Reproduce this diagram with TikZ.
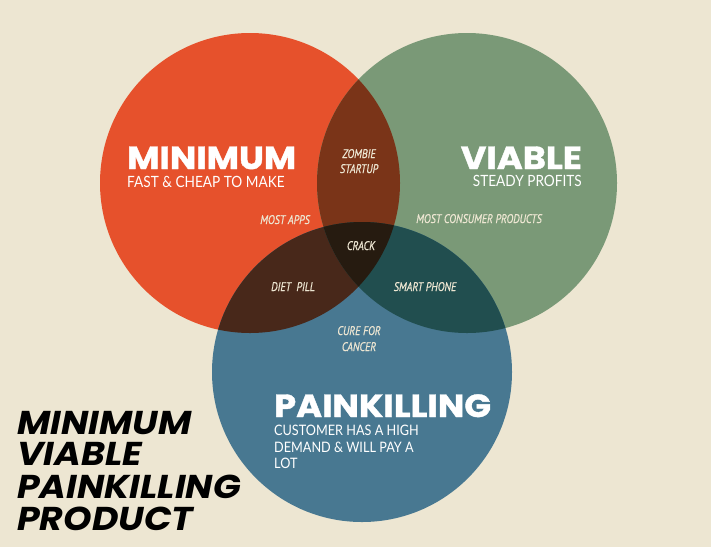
\documentclass[tikz,border=0pt]{standalone}
\usepackage{fontspec}
\setmainfont{Lato}
\newfontfamily\heavy{Poppins}[FakeStretch=1.1,BoldFeatures={FakeBold=1.2}]
\newfontfamily\cond{PT Sans}[FakeStretch=0.82,ItalicFeatures={FakeBold=0.6}]
\newfontfamily\sub{Lato}[FakeStretch=0.88]
\definecolor{bg}{HTML}{EDE6D2}
\definecolor{cred}{HTML}{E6512C}
\definecolor{cgreen}{HTML}{7A9977}
\definecolor{cblue}{HTML}{487891}
\definecolor{crg}{HTML}{7A3418}
\definecolor{crb}{HTML}{48281A}
\definecolor{cgb}{HTML}{214E4F}
\definecolor{call}{HTML}{261B10}
\begin{document}
\begin{tikzpicture}[x=1pt,y=-1pt,
  title/.style={inner sep=0pt,text=white,text depth=0pt,font=\heavy\bfseries\fontsize{32}{32}\selectfont},
  subt/.style={inner sep=0pt,text=white,text height=11pt,text depth=0pt,font=\sub\fontsize{15.5}{15.5}\selectfont},
  subp/.style={inner sep=0pt,text=white,text height=10pt,text depth=0pt,anchor=base west,font=\sub\fontsize{14.4}{14.4}\selectfont},
  lbl/.style={inner sep=0pt,text=bg,anchor=base,font=\cond\itshape\fontsize{12.5}{12.5}\selectfont},
  big/.style={inner sep=0pt,anchor=base west,text=black,text depth=0pt,font=\heavy\bfseries\itshape\fontsize{33}{33}\selectfont}]
\fill[bg] (0,0) rectangle (711,547);
\useasboundingbox (0,0) rectangle (711,547);
\def\rc{(250,183) circle[radius=150]}
\def\gc{(467,183) circle[radius=150]}
\def\bc{(362,372) circle[radius=150]}
\fill[cred] \rc;
\fill[cgreen] \gc;
\fill[cblue] \bc;
\begin{scope}\clip \rc; \fill[crg] \gc; \end{scope}
\begin{scope}\clip \rc; \fill[crb] \bc; \end{scope}
\begin{scope}\clip \gc; \fill[cgb] \bc; \end{scope}
\begin{scope}\clip \rc; \clip \gc; \fill[call] \bc; \end{scope}
% titles
\node[title,anchor=base west] (tmin) at (127,169) {MINIMUM};
\node[subt,anchor=base west] (smin) at (127,187) {FAST \& CHEAP TO MAKE};
\node[title,anchor=base east] (tvia) at (582,169) {VIABLE};
\node[subt,anchor=base east] (svia) at (582,186) {STEADY PROFITS};
\node[title,anchor=base west] (tpain) at (274,417) {PAINKILLING};
\node[subp] (sp1) at (274,435) {CUSTOMER HAS A HIGH};
\node[subp] (sp2) at (274,452) {DEMAND \& WILL PAY A};
\node[subp] (sp3) at (274,468) {LOT};
% region labels
\node[lbl] (z1) at (359,158) {ZOMBIE};
\node[lbl] (z2) at (359,173) {STARTUP};
\node[lbl] (apps) at (285,224) {MOST APPS};
\node[lbl] (cons) at (479,223) {MOST CONSUMER PRODUCTS};
\node[lbl] (crack) at (361,250) {CRACK};
\node[lbl] (diet) at (293,291) {DIET \ PILL};
\node[lbl] (smart) at (425,291) {SMART PHONE};
\node[lbl] (cure1) at (359,335) {CURE FOR};
\node[lbl] (cure2) at (359,351) {CANCER};
% big title
\node[big] (b1) at (17,434) {MINIMUM};
\node[big] (b2) at (17,465) {VIABLE};
\node[big] (b3) at (17,498) {PAINKILLING};
\node[big] (b4) at (17,530) {PRODUCT};
\end{tikzpicture}
\end{document}
